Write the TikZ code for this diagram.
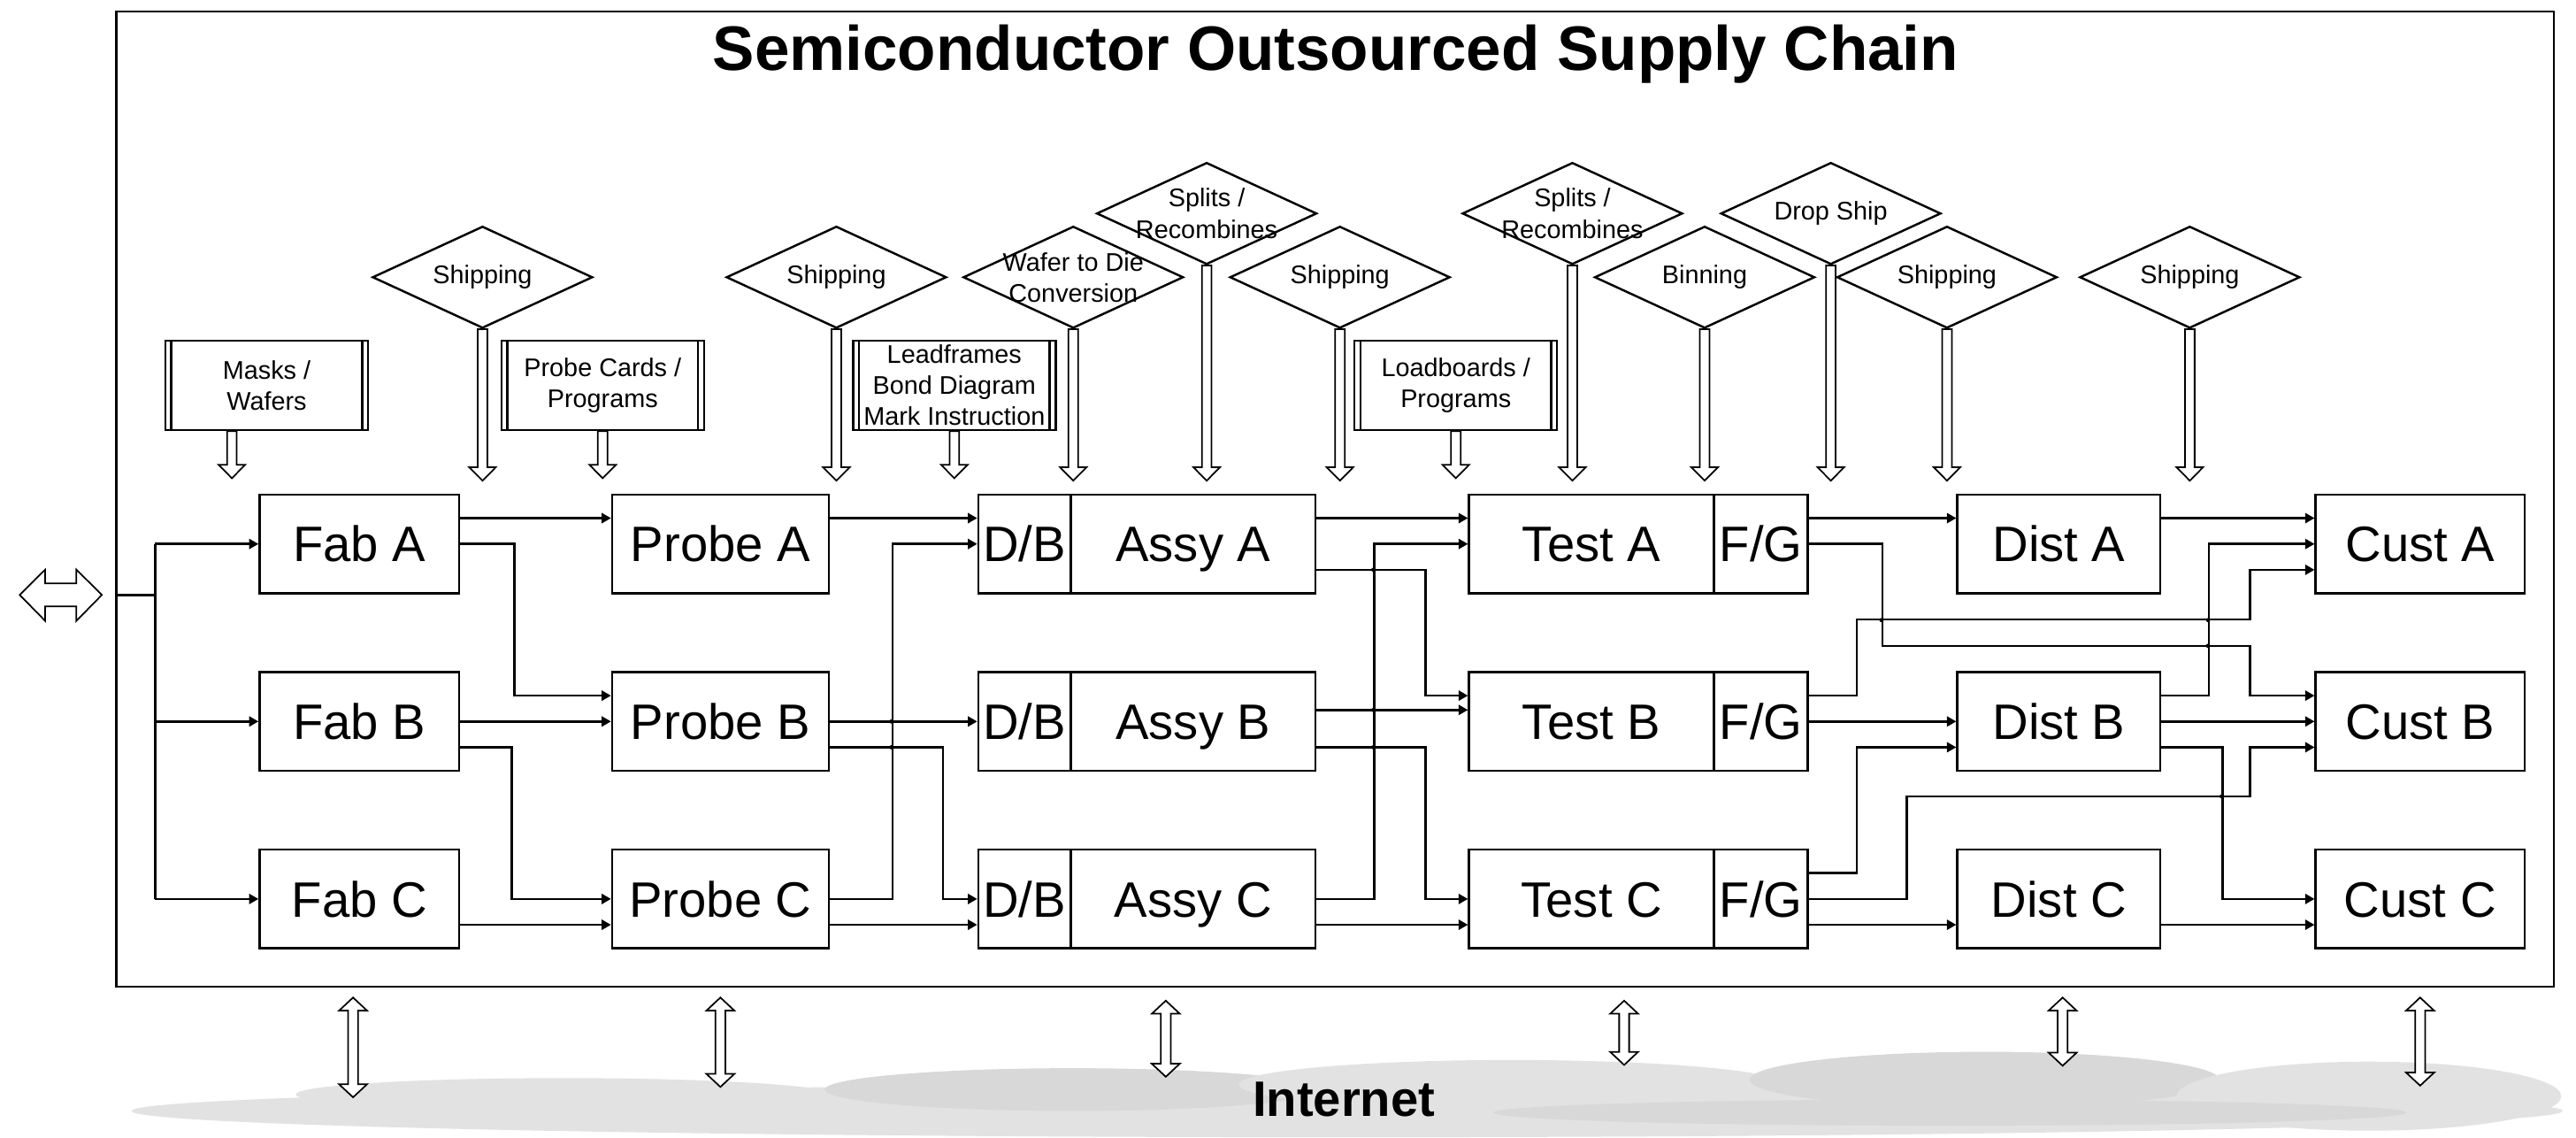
\documentclass[tikz,border=0pt]{standalone}
\usepackage{fontspec}
\setmainfont{Liberation Sans}
\usetikzlibrary{shapes.geometric,arrows.meta,calc}
\newcommand\diafont{\fontsize{8.2}{10}\selectfont}
\definecolor{cloudc}{RGB}{226,226,226}
\definecolor{cloudd}{RGB}{216,216,216}
\begin{document}
\begin{tikzpicture}[x=0.018571cm,y=-0.018571cm,
  box/.style={draw, line width=0.7pt, rectangle, minimum height=1.114cm, inner sep=0pt,
    font=\fontsize{16}{18}\selectfont, text height=11.5pt, text depth=0pt},
  procbox/.style={draw, line width=0.7pt, rectangle, minimum width=2.29cm, minimum height=1.01cm,
    inner sep=0pt, align=center, font=\diafont,
    path picture={
      \draw[line width=0.7pt] ([xshift=1.9pt]path picture bounding box.north west) -- ([xshift=1.9pt]path picture bounding box.south west);
      \draw[line width=0.7pt] ([xshift=-1.9pt]path picture bounding box.north east) -- ([xshift=-1.9pt]path picture bounding box.south east);}},
  dia/.style={diamond, draw, line width=0.7pt, minimum width=2.488cm, minimum height=1.151cm, inner sep=0pt},
  dlab/.style={font=\diafont, align=center, inner sep=0pt},
  conn/.style={line width=0.7pt, -{Triangle[length=3pt,width=3.2pt]}},
  hdown/.style={draw, fill=white, line width=0.5pt, to path={
    let \p1=(\tikztostart), \p2=(\tikztotarget) in
    (\x1-1.55pt,\y1) -- (\x1-1.55pt,\y2+4.3pt) -- (\x1-4.25pt,\y2+4.3pt) -- (\x1,\y2)
    -- (\x1+4.25pt,\y2+4.3pt) -- (\x1+1.55pt,\y2+4.3pt) -- (\x1+1.55pt,\y1) -- cycle}},
  hvv/.style={draw, fill=white, line width=0.5pt, to path={
    let \p1=(\tikztostart), \p2=(\tikztotarget) in
    (\x1,\y1) -- (\x1+4.5pt,\y1-4.2pt) -- (\x1+1.6pt,\y1-4.2pt) -- (\x1+1.6pt,\y2+4.2pt)
    -- (\x1+4.5pt,\y2+4.2pt) -- (\x1,\y2) -- (\x1-4.5pt,\y2+4.2pt) -- (\x1-1.6pt,\y2+4.2pt)
    -- (\x1-1.6pt,\y1-4.2pt) -- (\x1-4.5pt,\y1-4.2pt) -- cycle}},
  U/.style={yshift=8.3pt}, L/.style={yshift=-8.3pt}
]
\useasboundingbox (0,0) rectangle (1568,692);
\fill[white] (0,0) rectangle (1568,692);

% cloud
\fill[cloudc] (820,676) ellipse [x radius=740, y radius=16];
\fill[cloudc] (343,666) ellipse [x radius=163, y radius=10];
\fill[cloudd] (653,663) ellipse [x radius=151, y radius=13];
\fill[cloudc] (920,660) ellipse [x radius=166, y radius=15];
\fill[cloudd] (1208,657) ellipse [x radius=143, y radius=17];
\fill[cloudc] (1442,667) ellipse [x radius=117, y radius=21];
\fill[cloudd] (1187,677) ellipse [x radius=278, y radius=8];

% frame and title
\node[draw, line width=0.8pt, minimum width=27.55cm, minimum height=11.02cm, inner sep=0pt] (frame) at (812.75,303.7) {};
\node[font=\bfseries\fontsize{20.2}{24}\selectfont, anchor=base] (title) at (813,43) {Semiconductor Outsourced Supply Chain};
\node[font=\bfseries\fontsize{16}{19}\selectfont, anchor=base] (inet) at (818,679) {Internet};

% left double arrow
\draw[line width=0.5pt, fill=white] (12,362) -- (27.5,346.6) -- (27.5,355) -- (46.5,355) -- (46.5,346.6)
  -- (62,362) -- (46.5,377.8) -- (46.5,369) -- (27.5,369) -- (27.5,377.8) -- cycle;

% main boxes
\foreach \r/\y in {A/331,B/439,C/547}{
  \node[box, minimum width=2.258cm] (fab\r) at (218.8,\y) {Fab \r};
  \node[box, minimum width=2.450cm] (probe\r) at (438.55,\y) {Probe \r};
  \node[box, minimum width=1.046cm] (db\r) at (623.65,\y) {D/B};
  \node[box, minimum width=2.767cm] (assy\r) at (726.3,\y) {Assy \r};
  \node[box, minimum width=2.769cm] (test\r) at (968.75,\y) {Test \r};
  \node[box, minimum width=1.059cm] (fg\r) at (1071.8,\y) {F/G};
  \node[box, minimum width=2.295cm] (dist\r) at (1253.2,\y) {Dist \r};
  \node[box, minimum width=2.362cm] (cust\r) at (1473.1,\y) {Cust \r};
}

% process boxes
\node[procbox] (masks) at (162.35,234.5) {Masks /\\Wafers};
\node[procbox] (pcards) at (366.85,234.5) {Probe Cards /\\Programs};
\node[procbox] (lead) at (580.9,234.5) {Leadframes\\Bond Diagram\\Mark Instruction};
\node[procbox] (loadb) at (886.15,234.5) {Loadboards /\\Programs};

% diamonds
\node[dia, label={[dlab]center:Shipping}] (ship1) at (293.7,168.7) {};
\node[dia, label={[dlab]center:Shipping}] (ship2) at (509.1,168.7) {};
\node[dia, label={[dlab]center:Wafer to Die\\Conversion}] (wafer) at (653.3,168.7) {};
\node[dia, label={[dlab]center:Splits /\\Recombines}] (split1) at (734.5,129.9) {};
\node[dia, label={[dlab]center:Shipping}] (ship3) at (815.6,168.7) {};
\node[dia, label={[dlab]center:Splits /\\Recombines}] (split2) at (957.1,129.9) {};
\node[dia, label={[dlab]center:Binning}] (binning) at (1037.6,168.7) {};
\node[dia, label={[dlab]center:Drop Ship}] (drop) at (1114.4,129.9) {};
\node[dia, label={[dlab]center:Shipping}] (ship4) at (1185.1,168.7) {};
\node[dia, label={[dlab]center:Shipping}] (ship5) at (1332.9,168.7) {};

% hollow arrows
\coordinate (tiprow) at (0,292.5);
\coordinate (tmasks) at (141.2,291);
\coordinate (tpcards) at (366.8,291);
\coordinate (tlead) at (581.5,291);
\coordinate (tloadb) at (886.5,291);
\draw[hdown] ([xshift=-11.2pt]masks.south) to (tmasks);
\draw[hdown] (pcards.south) to (tpcards);
\draw[hdown] (lead.south) to (tlead);
\draw[hdown] (loadb.south) to (tloadb);
\foreach \d in {ship1,ship2,wafer,split1,ship3,split2,binning,drop,ship4,ship5}{
  \coordinate (e\d) at (\d.south |- tiprow);
  \draw[hdown] (\d.south) to (e\d);
}

% left bus
\coordinate (bus) at (94.4,362);
\draw[line width=0.7pt] (frame.west |- bus) -- (bus);
\draw[line width=0.7pt] (bus |- fabA.west) -- (bus |- fabC.west);
\draw[conn] (bus |- fabA.west) -- (fabA.west);
\draw[conn] (bus |- fabB.west) -- (fabB.west);
\draw[conn] (bus |- fabC.west) -- (fabC.west);

% Fab -> Probe
\draw[conn] ([U]fabA.east) -- ([U]probeA.west);
\draw[conn] (fabA.east) -- ++(32.9,0) |- ([U]probeB.west);
\draw[conn] (fabB.east) -- (probeB.west);
\draw[conn] ([L]fabB.east) -- ++(31.2,0) |- (probeC.west);
\draw[conn] ([L]fabC.east) -- ([L]probeC.west);

% Probe -> D/B
\draw[conn] ([U]probeA.east) -- ([U]dbA.west);
\draw[conn] (probeC.east) -- ++(38.1,0) |- (dbA.west);
\draw[conn] (probeB.east) -- (dbB.west);
\draw[conn] ([L]probeB.east) -- ++(68.7,0) |- (dbC.west);
\draw[conn] ([L]probeC.east) -- ([L]dbC.west);

% Assy -> Test
\draw[conn] ([U]assyA.east) -- ([U]testA.west);
\draw[conn] ([L]assyA.east) -- ++(66.3,0) |- ([U]testB.west);
\draw[conn] ([yshift=3.7pt]assyB.east) -- ([yshift=3.7pt]testB.west);
\draw[conn] ([L]assyB.east) -- ++(66.3,0) |- (testC.west);
\draw[conn] (assyC.east) -- ++(35.1,0) |- (testA.west);
\draw[conn] ([L]assyC.east) -- ([L]testC.west);

% F/G -> Dist / Cust
\draw[conn] ([U]fgA.east) -- ([U]distA.west);
\draw[conn] (fgA.east) -- ++(44.9,0) -- ++(0,62) -- ++(223.7,0) |- ([U]custB.west);
\draw[conn] ([U]fgB.east) -- ++(29.1,0) -- ++(0,-46.4) -- ++(239.5,0) |- ([L]custA.west);
\draw[conn] (fgB.east) -- (distB.west);
\draw[conn] ([U]fgC.east) -- ++(29.1,0) |- ([L]distB.west);
\draw[conn] (fgC.east) -- ++(59.7,0) -- ++(0,-62.4) -- ++(208.9,0) |- ([L]custB.west);
\draw[conn] ([L]fgC.east) -- ([L]distC.west);

% Dist -> Cust
\draw[conn] ([U]distA.east) -- ([U]custA.west);
\draw[conn] ([U]distB.east) -- ++(29,0) |- (custA.west);
\draw[conn] (distB.east) -- (custB.west);
\draw[conn] ([L]distB.east) -- ++(37.3,0) |- (custC.west);
\draw[conn] ([L]distC.east) -- ([L]custC.west);

% crossing dots
\foreach \p in {(542.6,439),(542.6,454.7),(835.9,346.7),(835.9,432),(835.9,454.7),
  (1145.2,377.3),(1344,377.3),(1344,393),(1352.3,484.6)}{
  \fill \p circle (1.3);
}

% bottom double arrows
\foreach \i/\x/\a/\b in {1/214.9/607/667.7,2/438.5/607/661.4,3/709.6/608.9/655.2,
  4/988.6/608.9/648,5/1255.5/607/648.5,6/1473.1/607/660.6}{
  \coordinate (up\i) at (\x,\a);
  \coordinate (dn\i) at (\x,\b);
  \draw[hvv] (up\i) to (dn\i);
}
\end{tikzpicture}
\end{document}
